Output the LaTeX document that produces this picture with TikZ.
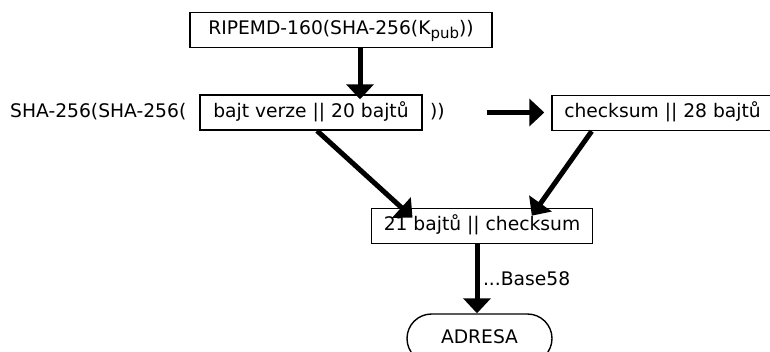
\documentclass[tikz,border=0pt]{standalone}
\usepackage{fontspec}
\setmainfont{DejaVu Sans}
\usepackage{tikz}
\usetikzlibrary{calc, positioning, arrows.meta, shapes.misc}
\definecolor{inkBlack}{HTML}{000000}
\tikzset{
  box/.style   = {draw=inkBlack, line width=1.4bp, fill=white, inner sep=0pt,
                  minimum height=35bp, text height=14bp, text depth=4.5bp, align=center},
  term/.style  = {box, rounded rectangle},
  plain/.style = {inner sep=0pt, text height=14bp, text depth=4.5bp},
  fl/.style    = {-{Triangle[length=15bp, width=27bp]}, draw=inkBlack, line width=5bp},
  lbl/.style   = {inner sep=3.5bp}
}
\begin{document}
\begin{tikzpicture}[x=1bp, y=-1bp, font=\fontsize{18.7bp}{22bp}\selectfont]
  \useasboundingbox (0,0) rectangle (770,351);

  \node[box, minimum width=302bp] (ripemd) at (341,30)
    {RIPEMD-160(SHA-256(K\raisebox{-3.5bp}{\fontsize{15bp}{15bp}\selectfont pub}))};

  \node[plain, anchor=west] (shaL) at (10,112.5) {SHA-256(SHA-256(};
  \node[box, minimum width=222bp] (bajt) at (311,112.5) {bajt verze || 20 bajtů};
  \node[plain, anchor=west] (closeR) at (430,112.5) {))};
  \node[box, minimum width=221bp] (chk) at (662.5,113) {checksum || 28 bajtů};

  \node[box, minimum width=221bp] (join) at (482,225.7) {21 bajtů || checksum};
  \node[term, minimum width=145bp, minimum height=49bp] (adresa) at (479.5,338.5) {ADRESA};

  \draw[fl, shorten >=-5bp] ([xshift=19bp]ripemd.south) -- ([xshift=19bp]ripemd.south |- bajt.north);
  \draw[fl, shorten <=42bp, shorten >=7bp] (closeR.east) -- (closeR.east -| chk.west);
  \draw[fl, shorten >=-15bp] ([xshift=6bp]bajt.south) -- ([xshift=-80.6bp]join.north);
  \draw[fl, shorten >=-10bp] ([xshift=-70.8bp]chk.south) -- ([xshift=55.6bp]join.north);
  \draw[fl] ([xshift=-5bp]join.south) -- ([xshift=-5bp]join.south |- adresa.north)
    node[lbl, right, midway] {...Base58};
\end{tikzpicture}
\end{document}
